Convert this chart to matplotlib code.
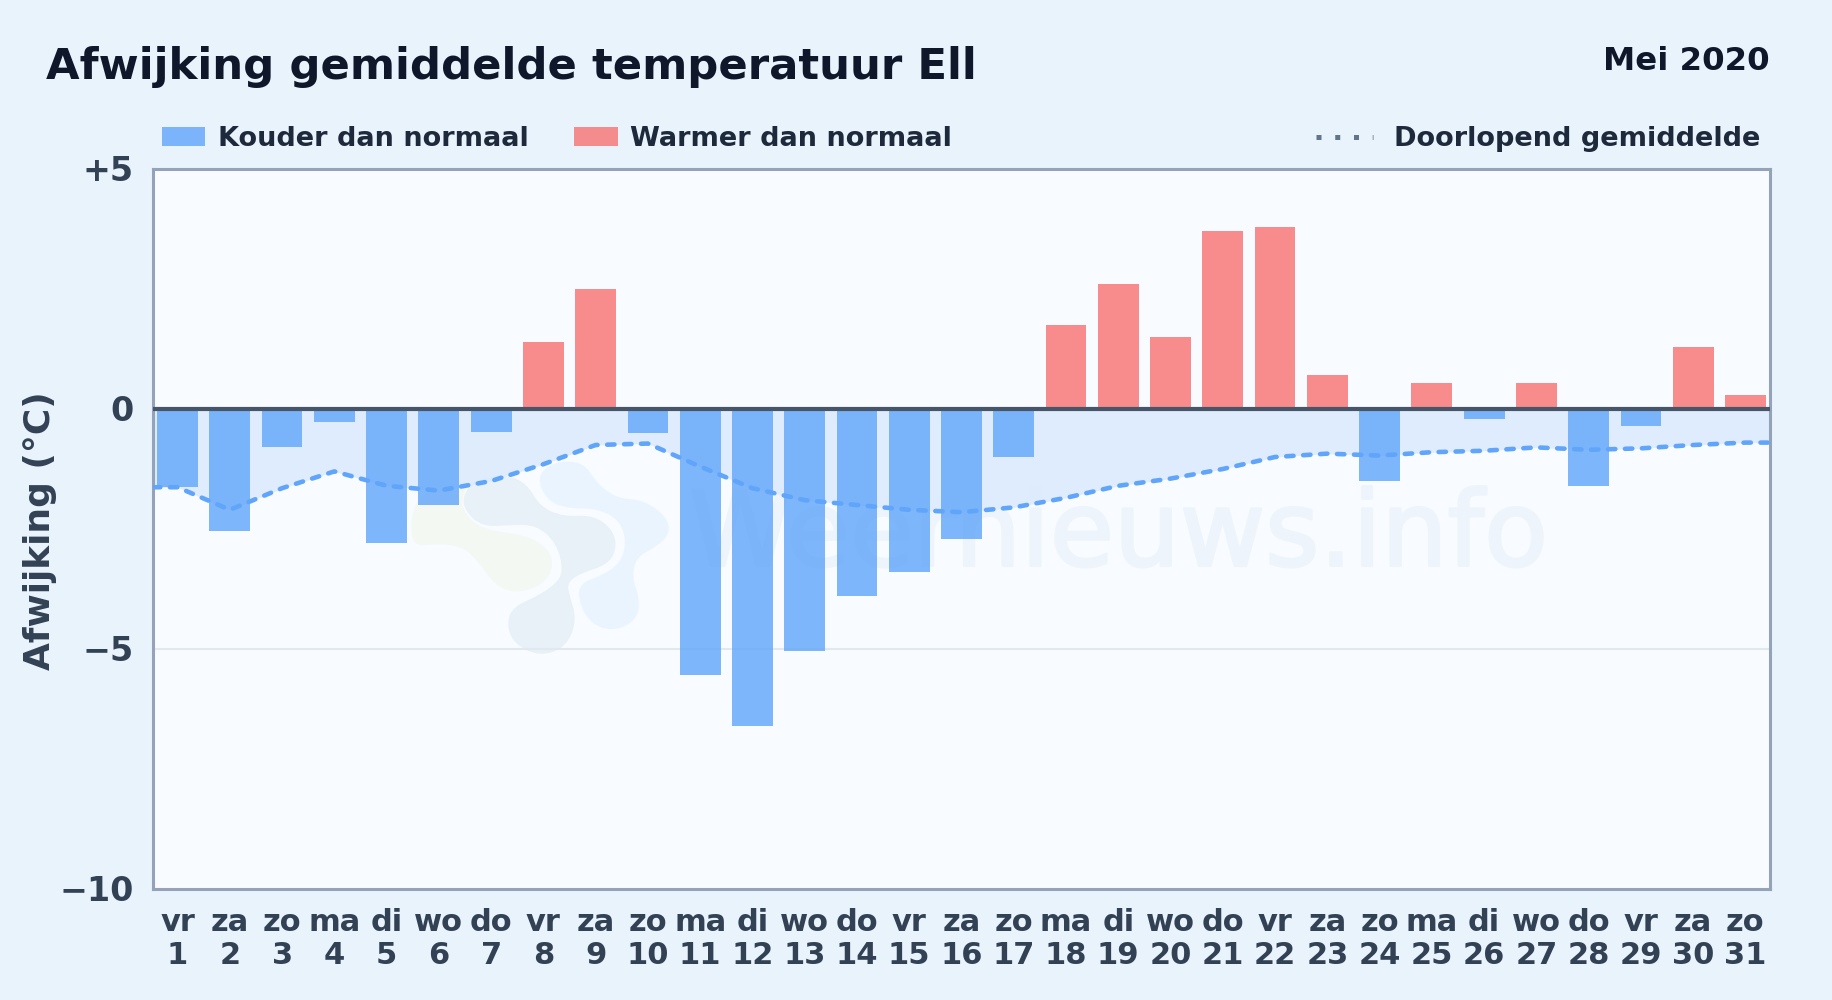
#importing
import numpy as np
import matplotlib
matplotlib.use('Agg')
import matplotlib.pyplot as plt
import matplotlib.patheffects as pe
from matplotlib.patches import Patch, PathPatch
from matplotlib.path import Path
from matplotlib.lines import Line2D
from matplotlib.transforms import IdentityTransform, ScaledTranslation

#data
days = np.arange(1, 32)
weekdays = ['vr','za','zo','ma','di','wo','do','vr','za','zo','ma','di','wo','do','vr','za',
            'zo','ma','di','wo','do','vr','za','zo','ma','di','wo','do','vr','za','zo']
deviation = np.array([-1.63,-2.55,-0.8,-0.27,-2.8,-2.0,-0.48,1.4,2.5,-0.5,-5.55,-6.6,-5.05,-3.9,-3.4,-2.7,
                      -1.0,1.75,2.6,1.5,3.7,3.8,0.7,-1.5,0.55,-0.2,0.55,-1.6,-0.35,1.3,0.3])
running_mean = np.array([-1.63,-2.1,-1.65,-1.3,-1.6,-1.7,-1.5,-1.15,-0.75,-0.72,-1.2,-1.65,-1.9,-2.0,-2.1,-2.15,
                         -2.05,-1.85,-1.6,-1.45,-1.25,-1.0,-0.93,-0.97,-0.9,-0.87,-0.8,-0.85,-0.82,-0.75,-0.7])
yticks = [5, 0, -5, -10]
yticklabels = ['+5', '0', '\u22125', '\u221210']

W, H = 1832, 1000
BG = '#e9f3fc'
DARK = '#0f172a'
TXT = '#1e293b'
TICK = '#334155'
BLUE = '#60a5fa'
RED = '#f87171'

fig = plt.figure(figsize=(W/100, H/100), dpi=100, facecolor=BG)
ax = fig.add_axes([153/W, 1-889/H, (1770-153)/W, (889-169)/H], facecolor='#f8fbff')
xmin, xmax = 0.53, 31.47
ax.set_xlim(xmin, xmax)
ax.set_ylim(-10, 5)

#watermark logo, outlines traced in zoomed crop pixels (3x, crop starts at 350,380)
logo_green = [(180,420),(210,340),(330,300),(340,180),(400,120),(470,140),(500,200),(470,260),(380,290),
              (335,340),(340,400),(400,450),(530,465),(600,510),(610,570),(570,620),(490,640),(430,610),
              (390,550),(340,500),(260,490),(190,500)]
logo_grey = [(335,350),(380,295),(470,285),(530,310),(570,380),(640,410),(730,405),(790,450),(800,510),
             (770,555),(690,580),(650,610),(660,650),(680,720),(650,800),(570,830),(490,790),(470,730),
             (490,680),(560,650),(620,610),(640,570),(620,490),(560,435),(480,435),(400,440),(350,400)]
logo_blue = [(560,290),(610,245),(700,245),(740,310),(800,355),(880,360),(950,410),(960,460),(920,500),
             (860,530),(845,590),(870,660),(860,720),(790,755),(720,730),(685,660),(690,610),(760,585),
             (810,550),(830,490),(810,420),(740,385),(650,385),(590,360)]

def blob(pts, color):
    p = np.array(pts, dtype=float)
    p = np.c_[350 + p[:, 0]/3, H - (380 + p[:, 1]/3)]
    mids = (p + np.roll(p, -1, axis=0))/2
    verts = [mids[-1]]
    codes = [Path.MOVETO]
    for a, m in zip(p, mids):
        verts += [a, m]
        codes += [Path.CURVE3, Path.CURVE3]
    ax.add_patch(PathPatch(Path(verts, codes), fc=color, ec='none', transform=IdentityTransform(), zorder=1))

blob(logo_green, '#f3f8f2')
blob(logo_grey, '#e8f0f8')
blob(logo_blue, '#e9f4fe')

#watermark text
ax.text(19.0, -2.67, 'Weernieuws.info', fontsize=75, color='#edf4fb', ha='center', va='center',
        zorder=1.2, path_effects=[pe.withStroke(linewidth=2, foreground='#edf4fb')])

#grid and mean band
ax.axhline(-5, color='#e2e8f0', lw=1.5, zorder=1.5)
line_x = np.r_[xmin, days, xmax]
line_y = np.r_[running_mean[0], running_mean, running_mean[-1]]
ax.fill_between(line_x, line_y, 0, color='#dbeafe', alpha=0.85, lw=0, zorder=2)

#bars
colors = [BLUE if v < 0 else RED for v in deviation]
ax.bar(days, deviation, width=0.78, color=colors, alpha=0.8, lw=0, zorder=3)

ax.plot(line_x, line_y, color=BLUE, lw=3.3, ls=(0, (1.6, 2.1)), dash_capstyle='round', zorder=5)
ax.axhline(0, color='#475569', lw=3, zorder=6)

#axes
for s in ax.spines.values():
    s.set_color('#94a3b8')
    s.set_linewidth(2.2)
ax.set_xticks(days)
ax.set_xticklabels([w + '\n' + str(d) for w, d in zip(weekdays, days)], fontsize=22, fontweight='bold',
                   color=TICK, linespacing=1.17)
ax.set_yticks(yticks)
ax.set_yticklabels(yticklabels, fontsize=24, fontweight='bold', color=TICK)
ax.tick_params(axis='both', length=0)
ax.tick_params(axis='x', pad=14)
ax.tick_params(axis='y', pad=14)
up = ScaledTranslation(0, 1/72, fig.dpi_scale_trans)
for lab in ax.get_yticklabels():
    lab.set_transform(lab.get_transform() + up)

fig.text(40.5/W, 1-531/H, 'Afwijking (\u00b0C)', rotation=90, fontsize=25.9, fontweight='bold', color=TICK,
         ha='center', va='center')

#titles
fig.text(46/W, 1-67/H, 'Afwijking gemiddelde temperatuur Ell', fontsize=31.25, fontweight='bold', color=DARK,
         ha='left', va='center')
fig.text(1770/W, 1-62/H, 'Mei 2020', fontsize=23.3, fontweight='bold', color=DARK, ha='right', va='center')

#legends
handles = [Patch(color=BLUE, alpha=0.8, lw=0), Patch(color=RED, alpha=0.8, lw=0)]
leg = fig.legend(handles, ['Kouder dan normaal', 'Warmer dan normaal'], ncol=2, loc='center left',
                 bbox_to_anchor=(162/W, 1-139/H), frameon=False, borderpad=0, borderaxespad=0,
                 prop={'size': 19.5, 'weight': 'bold'}, labelcolor=TXT, handlelength=1.6, handleheight=0.73,
                 handletextpad=0.47, columnspacing=1.68)
dot = Line2D([0], [0], color='#64748b', lw=3.6, ls=(0, (1.0, 2.75)))
leg2 = fig.legend([dot], ['Doorlopend gemiddelde'], loc='center right', bbox_to_anchor=(1760/W, 1-139/H),
                  frameon=False, borderpad=0, borderaxespad=0, prop={'size': 19.5, 'weight': 'bold'},
                  labelcolor=TXT, handlelength=2.07, handletextpad=0.78)

fig.savefig('out.png', dpi=100, facecolor=BG)
